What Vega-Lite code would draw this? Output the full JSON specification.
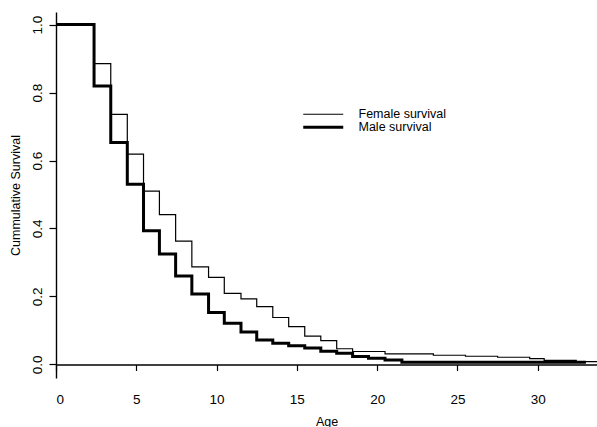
{
  "$schema": "https://vega.github.io/schema/vega-lite/v6.json",
  "width": 541,
  "height": 366,
  "autosize": {"type": "none"},
  "padding": {"left": 56, "top": 12, "right": 0, "bottom": 49},
  "background": "white",
  "config": {
    "view": {"stroke": null},
    "font": "Liberation Sans",
    "axis": {
      "grid": false,
      "domainColor": "black",
      "domainWidth": 1.4,
      "tickColor": "black",
      "tickWidth": 1.2,
      "labelColor": "black",
      "labelFont": "Liberation Sans",
      "labelFontSize": 13.5,
      "titleFont": "Liberation Sans",
      "titleFontSize": 12.5,
      "titleFontWeight": "normal",
      "titleColor": "black"
    }
  },
  "data": {
    "values": [
      {"sex": "Female", "age": 0, "survival": 1.0},
      {"sex": "Female", "age": 2.37, "survival": 0.885},
      {"sex": "Female", "age": 3.41, "survival": 0.736},
      {"sex": "Female", "age": 4.44, "survival": 0.619},
      {"sex": "Female", "age": 5.45, "survival": 0.51},
      {"sex": "Female", "age": 6.44, "survival": 0.441},
      {"sex": "Female", "age": 7.45, "survival": 0.363},
      {"sex": "Female", "age": 8.46, "survival": 0.287},
      {"sex": "Female", "age": 9.5, "survival": 0.256},
      {"sex": "Female", "age": 10.48, "survival": 0.209},
      {"sex": "Female", "age": 11.52, "survival": 0.193},
      {"sex": "Female", "age": 12.5, "survival": 0.17},
      {"sex": "Female", "age": 13.5, "survival": 0.138},
      {"sex": "Female", "age": 14.49, "survival": 0.111},
      {"sex": "Female", "age": 15.49, "survival": 0.083},
      {"sex": "Female", "age": 16.49, "survival": 0.07},
      {"sex": "Female", "age": 17.48, "survival": 0.046},
      {"sex": "Female", "age": 18.47, "survival": 0.038},
      {"sex": "Female", "age": 20.49, "survival": 0.031},
      {"sex": "Female", "age": 23.5, "survival": 0.027},
      {"sex": "Female", "age": 25.5, "survival": 0.024},
      {"sex": "Female", "age": 27.5, "survival": 0.021},
      {"sex": "Female", "age": 29.5, "survival": 0.017},
      {"sex": "Female", "age": 30.4, "survival": 0.012},
      {"sex": "Female", "age": 32.4, "survival": 0.008},
      {"sex": "Female", "age": 33.69, "survival": 0.008},
      {"sex": "Male", "age": 0, "survival": 1.0},
      {"sex": "Male", "age": 2.37, "survival": 0.819},
      {"sex": "Male", "age": 3.41, "survival": 0.653},
      {"sex": "Male", "age": 4.44, "survival": 0.53},
      {"sex": "Male", "age": 5.45, "survival": 0.393},
      {"sex": "Male", "age": 6.44, "survival": 0.325},
      {"sex": "Male", "age": 7.45, "survival": 0.26},
      {"sex": "Male", "age": 8.46, "survival": 0.207},
      {"sex": "Male", "age": 9.5, "survival": 0.153},
      {"sex": "Male", "age": 10.48, "survival": 0.121},
      {"sex": "Male", "age": 11.52, "survival": 0.095},
      {"sex": "Male", "age": 12.5, "survival": 0.072},
      {"sex": "Male", "age": 13.5, "survival": 0.062},
      {"sex": "Male", "age": 14.49, "survival": 0.055},
      {"sex": "Male", "age": 15.49, "survival": 0.048},
      {"sex": "Male", "age": 16.49, "survival": 0.039},
      {"sex": "Male", "age": 17.48, "survival": 0.033},
      {"sex": "Male", "age": 18.47, "survival": 0.023},
      {"sex": "Male", "age": 19.46, "survival": 0.018},
      {"sex": "Male", "age": 20.49, "survival": 0.013},
      {"sex": "Male", "age": 21.54, "survival": 0.006},
      {"sex": "Male", "age": 33.0, "survival": 0.006}
    ]
  },
  "mark": {"type": "line", "interpolate": "step-after", "color": "black", "clip": true},
  "encoding": {
    "x": {
      "field": "age",
      "type": "quantitative",
      "scale": {"domain": [0, 33.69], "nice": false, "zero": false},
      "axis": {
        "title": "Age",
        "values": [0, 5, 10, 15, 20, 25, 30],
        "offset": -13.5,
        "tickSize": 6,
        "labelPadding": 22,
        "titlePadding": 9
      }
    },
    "y": {
      "field": "survival",
      "type": "quantitative",
      "scale": {"domain": [-0.04, 1.037], "nice": false, "zero": false},
      "axis": {
        "title": "Cummulative Survival",
        "values": [0, 0.2, 0.4, 0.6, 0.8, 1.0],
        "format": ".1f",
        "labelAngle": 270,
        "tickSize": 7,
        "labelPadding": 5,
        "titlePadding": 8
      }
    },
    "strokeWidth": {
      "field": "sex",
      "type": "nominal",
      "scale": {"domain": ["Female", "Male"], "range": [1.2, 3]},
      "legend": {
        "orient": "none",
        "legendX": 261,
        "legendY": 96,
        "title": null,
        "padding": 0,
        "rowPadding": 0,
        "symbolType": "M-5,0H5",
        "symbolSize": 64,
        "symbolStrokeColor": "black",
        "labelOffset": 29,
        "labelFont": "Liberation Sans",
        "labelFontSize": 12.5,
        "labelColor": "black",
        "labelExpr": "datum.label + ' survival'"
      }
    }
  }
}
